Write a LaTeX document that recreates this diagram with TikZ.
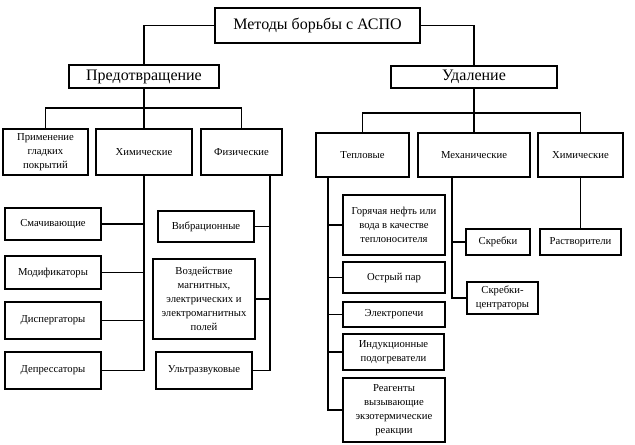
\documentclass[tikz,border=0pt]{standalone}
\usepackage{fontspec}
\setmainfont{Liberation Serif}
\tikzset{
    box/.style={
        rectangle, draw, line width=1.3pt, fill=white,
        align=center, inner sep=1pt,
        font=\fontsize{8}{10.5}\selectfont
    },
    headbox/.style={
        box, font=\fontsize{12}{14}\selectfont
    },
    boxsize/.style 2 args={
        minimum width=#1*0.75pt, minimum height=#2*0.75pt
    }
}
\begin{document}
\begin{tikzpicture}[
        x=0.75pt, y=-0.75pt,
        link/.style={draw, line width=1pt}
    ]

        \path[use as bounding box, fill=white] (0,0) rectangle (635,445);

        % Top
        \node[headbox, boxsize={205}{35}] (title) at (317.5,25.5) {Методы борьбы с АСПО};
        \node[headbox, boxsize={150}{23}] (prevent) at (144,76.5) {Предотвращение};
        \node[headbox, boxsize={166}{22}] (removal) at (474,77) {Удаление};

        % Second level
        \node[box, boxsize={85}{46}] (smooth) at (45.5,152) {Применение\\гладких\\покрытий};
        \node[box, boxsize={96}{46}] (chemA) at (144,152) {Химические};
        \node[box, boxsize={81}{46}] (phys) at (241.5,152) {Физические};
        \node[box, boxsize={93}{44}] (thermal) at (362.5,155) {Тепловые};
        \node[box, boxsize={112}{44}] (mech) at (474,155) {Механические};
        \node[box, boxsize={85}{44}] (chemB) at (580.5,155) {Химические};

        % Chemical methods
        \node[box, boxsize={96}{32}] (wetting) at (53,224) {Смачивающие};
        \node[box, boxsize={96}{33}] (modif) at (53,272.5) {Модификаторы};
        \node[box, boxsize={96}{37}] (disp) at (53,320.5) {Диспергаторы};
        \node[box, boxsize={96}{37}] (depress) at (53,370.5) {Депрессаторы};

        % Physical methods
        \node[box, boxsize={96}{31}] (vibr) at (206,226.5) {Вибрационные};
        \node[box, boxsize={102}{80}] (fields) at (204,299) {Воздействие\\магнитных,\\электрических и\\электромагнитных\\полей};
        \node[box, boxsize={96}{37}] (ultra) at (204,370.5) {Ультразвуковые};

        % Thermal methods
        \node[box, boxsize={102}{60}] (hotoil) at (394,225) {Горячая нефть или\\вода в качестве\\теплоносителя};
        \node[box, boxsize={102}{31}] (steam) at (394,277.5) {Острый пар};
        \node[box, boxsize={102}{25}] (furnace) at (394,314.5) {Электропечи};
        \node[box, boxsize={101}{36}] (induct) at (393.5,352) {Индукционные\\подогреватели};
        \node[box, boxsize={102}{64}] (reag) at (394,410) {Реагенты\\вызывающие\\экзотермические\\реакции};

        % Mechanical and chemical removal
        \node[box, boxsize={64}{26}] (scraper) at (498,242) {Скребки};
        \node[box, boxsize={71}{32}] (centr) at (502.5,298) {Скребки-\\центраторы};
        \node[box, boxsize={81}{26}] (solvent) at (580.5,242) {Растворители};

        % Bus points
        \coordinate (pbus) at (144,108);
        \coordinate (ubus) at (474,113);
        \coordinate (physdown) at (270,175);
        \coordinate (thermdown) at (328,177);
        \coordinate (mechdown) at (452,177);

        % Connectors
        \draw[link] (title.west) -| (prevent.north);
        \draw[link] (title.east) -| (removal.north);
        \draw[link] (prevent.south) -- (chemA.north);
        \draw[link] (smooth.north) |- (pbus) -| (phys.north);
        \draw[link] (removal.south) -- (mech.north);
        \draw[link] (thermal.north) |- (ubus) -| (chemB.north);

        \draw[link] (chemA.south) |- (depress.east);
        \draw[link] (wetting.east) -- (wetting.east -| chemA.south);
        \draw[link] (modif.east) -- (modif.east -| chemA.south);
        \draw[link] (disp.east) -- (disp.east -| chemA.south);

        \draw[link] (physdown) |- (ultra.east);
        \draw[link] (vibr.east) -- (vibr.east -| physdown);
        \draw[link] (fields.east) -- (fields.east -| physdown);

        \draw[link] (thermdown) |- (reag.west);
        \draw[link] (hotoil.west) -- (hotoil.west -| thermdown);
        \draw[link] (steam.west) -- (steam.west -| thermdown);
        \draw[link] (furnace.west) -- (furnace.west -| thermdown);
        \draw[link] (induct.west) -- (induct.west -| thermdown);

        \draw[link] (mechdown) |- (centr.west);
        \draw[link] (scraper.west) -- (scraper.west -| mechdown);
        \draw[link] (chemB.south) -- (solvent.north);

    \end{tikzpicture}
\end{document}
